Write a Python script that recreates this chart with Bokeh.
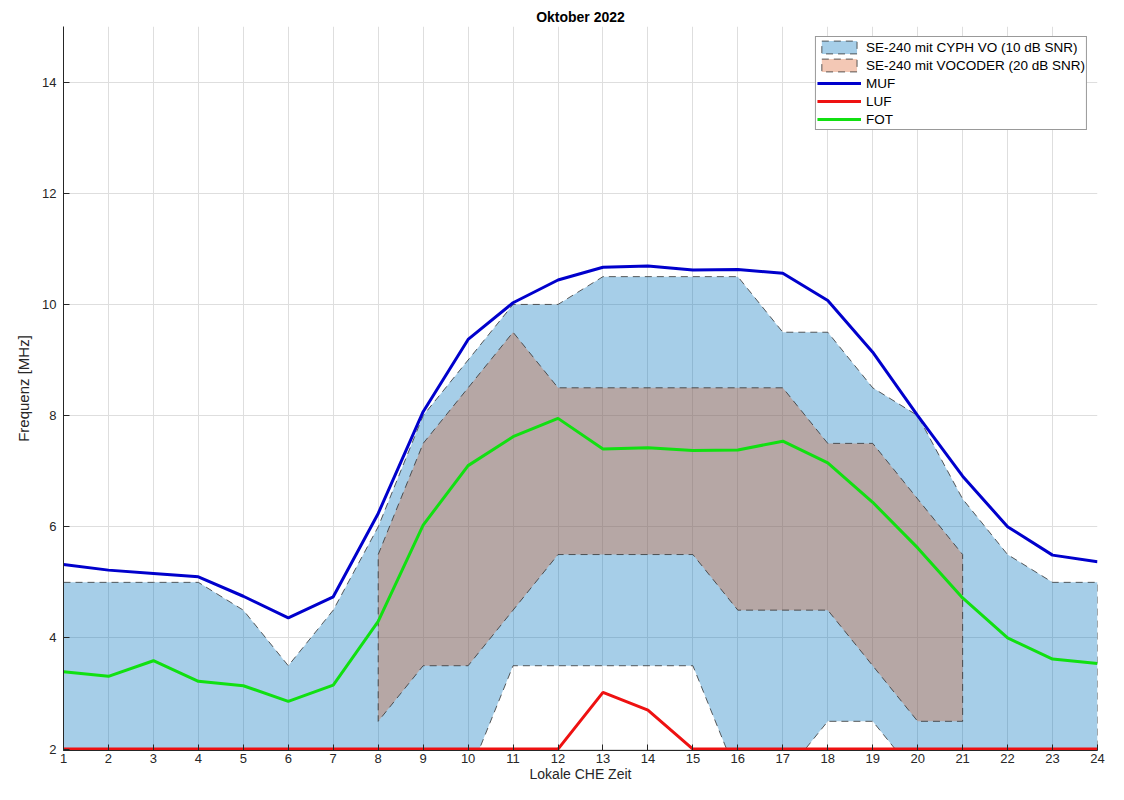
from bokeh.plotting import figure
from bokeh.models import Range1d, FixedTicker, Legend, LegendItem
from bokeh.embed import file_html
from bokeh.resources import INLINE

hours = list(range(1, 25))

cyph_upper = [5, 5, 5, 5, 4.5, 3.5, 4.5, 6, 8, 9, 10, 10, 10.5, 10.5, 10.5, 10.5,
              9.5, 9.5, 8.5, 8, 6.5, 5.5, 5, 5]
cyph_lower = [1.5, 1.5, 1.5, 1.5, 1.5, 1.5, 1.5, 1.5, 1.5, 1.5, 3.5, 3.5, 3.5, 3.5, 3.5, 1.5,
              1.5, 2.5, 2.5, 1.5, 1.5, 1.5, 1.5, 1.5]

voc_hours = list(range(8, 22))
voc_upper = [5.5, 7.5, 8.5, 9.5, 8.5, 8.5, 8.5, 8.5, 8.5, 8.5, 7.5, 7.5, 6.5, 5.5]
voc_lower = [2.5, 3.5, 3.5, 4.5, 5.5, 5.5, 5.5, 5.5, 4.5, 4.5, 4.5, 3.5, 2.5, 2.5]

muf = [5.32, 5.22, 5.16, 5.10, 4.75, 4.36, 4.74, 6.24, 8.07, 9.37, 10.03, 10.44, 10.67,
       10.69, 10.62, 10.63, 10.56, 10.07, 9.14, 8.0, 6.91, 6.0, 5.49, 5.37]
luf = [2, 2, 2, 2, 2, 2, 2, 2, 2, 2, 2, 2, 3.02, 2.70, 2, 2, 2, 2, 2, 2, 2, 2, 2, 2]
fot = [3.39, 3.31, 3.59, 3.22, 3.14, 2.86, 3.15, 4.30, 6.03, 7.10, 7.62, 7.95, 7.40,
       7.42, 7.37, 7.38, 7.54, 7.15, 6.44, 5.62, 4.72, 4.0, 3.62, 3.54]

x_ticks = hours
y_ticks = [2, 4, 6, 8, 10, 12, 14]

FONT = "Liberation Sans"
TXT = "#262626"

p = figure(width=1108, height=784, output_backend="svg", toolbar_location=None,
           x_range=Range1d(1, 24), y_range=Range1d(1.975, 15),
           title="Oktober 2022",
           min_border_left=63, min_border_right=11, min_border_top=26, min_border_bottom=33)
p.outline_line_color = None
p.background_fill_color = "white"
p.border_fill_color = "white"

p.title.align = "center"
p.title.text_font = FONT
p.title.text_font_size = "14px"
p.title.text_font_style = "bold"
p.title.text_color = "black"
p.title.standoff = 4

p.xaxis.ticker = FixedTicker(ticks=x_ticks)
p.yaxis.ticker = FixedTicker(ticks=y_ticks)
p.xgrid.ticker = FixedTicker(ticks=x_ticks)
p.ygrid.ticker = FixedTicker(ticks=y_ticks)
for ax in (p.xaxis[0], p.yaxis[0]):
    ax.major_tick_in = 6
    ax.major_tick_out = 0
    ax.minor_tick_in = 0
    ax.minor_tick_out = 0
    ax.axis_line_color = TXT
    ax.major_tick_line_color = TXT
    ax.major_label_text_font = FONT
    ax.major_label_text_font_size = "13px"
    ax.major_label_text_color = TXT
    ax.axis_label_text_font = FONT
    ax.axis_label_text_font_size = "15px"
    ax.axis_label_text_font_style = "normal"
    ax.axis_label_text_color = TXT
p.xaxis.axis_label = "Lokale CHE Zeit"
p.yaxis.axis_label = "Frequenz [MHz]"
p.xaxis.major_label_standoff = 3
p.xaxis.axis_label_standoff = 0
p.xaxis.axis_label_text_font_size = "14px"
p.yaxis.major_label_standoff = 7
p.yaxis.axis_label_standoff = 7

p.grid.grid_line_color = "#dedede"
p.grid.grid_line_width = 1

cyph_x = hours + hours[::-1]
cyph_y = cyph_upper + cyph_lower[::-1]
voc_x = voc_hours + voc_hours[::-1]
voc_y = voc_upper + voc_lower[::-1]

r_cyph = p.patch(cyph_x, cyph_y, fill_color="#0072bd", fill_alpha=0.35,
                 line_color="#333333", line_alpha=0.8, line_width=1, line_dash="7 5")
r_voc = p.patch(voc_x, voc_y, fill_color="#d95319", fill_alpha=0.32,
                line_color="#333333", line_alpha=0.8, line_width=1, line_dash="7 5")
r_muf = p.line(hours, muf, line_color="#0000cc", line_width=3)
r_luf = p.line(hours, luf, line_color="#ee1111", line_width=3)
r_fot = p.line(hours, fot, line_color="#11e011", line_width=3)

legend = Legend(items=[
    LegendItem(label="SE-240 mit CYPH VO (10 dB SNR)", renderers=[r_cyph]),
    LegendItem(label="SE-240 mit VOCODER (20 dB SNR)", renderers=[r_voc]),
    LegendItem(label="MUF", renderers=[r_muf]),
    LegendItem(label="LUF", renderers=[r_luf]),
    LegendItem(label="FOT", renderers=[r_fot]),
], location="top_right")
legend.margin = 10
legend.padding = 1
legend.spacing = 0
legend.label_height = 18
legend.glyph_height = 16
legend.glyph_width = 44
legend.label_standoff = 5
legend.label_text_font = FONT
legend.label_text_font_size = "13.5px"
legend.label_text_color = "black"
legend.border_line_color = "#333333"
legend.border_line_width = 1
legend.background_fill_color = "white"
legend.background_fill_alpha = 1
p.add_layout(legend)

open("out.html", "w").write(file_html(p, INLINE))
